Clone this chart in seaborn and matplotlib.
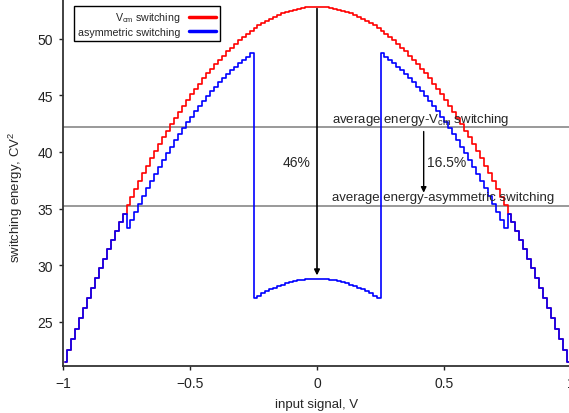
import numpy as np
import pandas as pd
import matplotlib.pyplot as plt
import seaborn as sns

# switching energy per output code (128 codes over the input range)
n_codes = 128
vin = -1 + (np.arange(n_codes) + 0.5) * 2 / n_codes

e_vcm = [21.49, 22.47, 23.44, 24.38, 25.31, 26.23, 27.13, 28.02, 28.89, 29.74, 30.58, 31.40, 32.21, 33.00, 33.78, 34.54,
         35.28, 36.01, 36.73, 37.43, 38.11, 38.78, 39.43, 40.07, 40.69, 41.29, 41.88, 42.46, 43.02, 43.56, 44.09, 44.60,
         45.10, 45.58, 46.04, 46.49, 46.93, 47.35, 47.75, 48.14, 48.51, 48.87, 49.21, 49.54, 49.85, 50.14, 50.42, 50.69,
         50.93, 51.17, 51.39, 51.59, 51.77, 51.94, 52.10, 52.24, 52.36, 52.47, 52.57, 52.64, 52.70, 52.75, 52.78, 52.80,
         52.80, 52.78, 52.75, 52.70, 52.64, 52.57, 52.47, 52.36, 52.24, 52.10, 51.94, 51.77, 51.59, 51.39, 51.17, 50.93,
         50.69, 50.42, 50.14, 49.85, 49.54, 49.21, 48.87, 48.51, 48.14, 47.75, 47.35, 46.93, 46.49, 46.04, 45.58, 45.10,
         44.60, 44.09, 43.56, 43.02, 42.46, 41.88, 41.29, 40.69, 40.07, 39.43, 38.78, 38.11, 37.43, 36.73, 36.01, 35.28,
         34.54, 33.78, 33.00, 32.21, 31.40, 30.58, 29.74, 28.89, 28.02, 27.13, 26.23, 25.31, 24.38, 23.44, 22.47, 21.49]

e_asym = [21.49, 22.47, 23.44, 24.38, 25.31, 26.23, 27.13, 28.02, 28.89, 29.74, 30.58, 31.40, 32.21, 33.00, 33.78, 34.54,
          33.28, 34.01, 34.73, 35.43, 36.11, 36.78, 37.43, 38.07, 38.69, 39.29, 39.88, 40.46, 41.02, 41.56, 42.09, 42.60,
          43.10, 43.58, 44.04, 44.49, 44.93, 45.35, 45.75, 46.14, 46.51, 46.87, 47.21, 47.54, 47.85, 48.14, 48.42, 48.69,
          27.11, 27.32, 27.52, 27.70, 27.87, 28.02, 28.17, 28.29, 28.40, 28.50, 28.59, 28.66, 28.71, 28.76, 28.78, 28.80,
          28.80, 28.78, 28.76, 28.71, 28.66, 28.59, 28.50, 28.40, 28.29, 28.17, 28.02, 27.87, 27.70, 27.52, 27.32, 27.11,
          48.69, 48.42, 48.14, 47.85, 47.54, 47.21, 46.87, 46.51, 46.14, 45.75, 45.35, 44.93, 44.49, 44.04, 43.58, 43.10,
          42.60, 42.09, 41.56, 41.02, 40.46, 39.88, 39.29, 38.69, 38.07, 37.43, 36.78, 36.11, 35.43, 34.73, 34.01, 33.28,
          34.54, 33.78, 33.00, 32.21, 31.40, 30.58, 29.74, 28.89, 28.02, 27.13, 26.23, 25.31, 24.38, 23.44, 22.47, 21.49]

avg_vcm = 42.2
avg_asym = 35.2
label_vcm = "V$_{cm}$ switching"
label_asym = "asymmetric switching"

df = pd.concat([
    pd.DataFrame({"vin": vin, "energy": e_vcm, "scheme": label_vcm}),
    pd.DataFrame({"vin": vin, "energy": e_asym, "scheme": label_asym}),
])

sns.set_style("ticks")
plt.rcParams['font.family'] = ['Liberation Sans', 'DejaVu Sans']
plt.rcParams['mathtext.default'] = 'regular'

fig = plt.figure(figsize=(5.69, 4.14), dpi=100)
# axes runs a bit past the right edge of the figure, like the original crop
ax = fig.add_axes([63 / 569, 47 / 414, 508 / 569, 367 / 414])

ax.axhline(avg_vcm, color='#888888', lw=1.2, zorder=1)
ax.axhline(avg_asym, color='#888888', lw=1.2, zorder=1)

sns.lineplot(data=df, x="vin", y="energy", hue="scheme", hue_order=[label_vcm, label_asym],
             palette={label_vcm: '#ff0000', label_asym: '#0000ff'}, drawstyle='steps-mid',
             lw=1.2, ax=ax, zorder=3)

ax.annotate("", xy=(0, 29.1), xytext=(0, 52.65),
            arrowprops=dict(arrowstyle='-|>', color='black', lw=1.2, shrinkA=0, shrinkB=0,
                            mutation_scale=8))
ax.annotate("", xy=(0.42, 36.4), xytext=(0.42, 41.8),
            arrowprops=dict(arrowstyle='-|>', color='black', lw=1.0, shrinkA=0, shrinkB=0,
                            mutation_scale=8))
ax.text(-0.08, 39.15, "46%", ha='center', va='center', fontsize=10)
ax.text(0.51, 39.15, "16.5%", ha='center', va='center', fontsize=10)
ax.text(0.06, 42.95, "average energy-V$_{cm}$ switching", ha='left', va='center', fontsize=9.5)
ax.text(0.06, 36.05, "average energy-asymmetric switching", ha='left', va='center', fontsize=9.5)

ax.set_xlim(-1, 1)
ax.set_ylim(21.1, 53.5)
ax.set_xticks([-1, -0.5, 0, 0.5, 1])
ax.set_xticklabels(["\u22121", "\u22120.5", "0", "0.5", "1"])
ax.set_yticks([25, 30, 35, 40, 45, 50])
ax.tick_params(direction='out', length=3, width=1, labelsize=10, colors='#222222', pad=4)
for s in ['top', 'right']:
    ax.spines[s].set_visible(False)
for s in ['left', 'bottom']:
    ax.spines[s].set_linewidth(1.3)
    ax.spines[s].set_color('#333333')

ax.set_xlabel("input signal, V", fontsize=9.5)
ax.set_ylabel("switching energy, CV$^2$", fontsize=9.5)
ax.xaxis.set_label_coords(0.5, -0.088)
ax.yaxis.set_label_coords(-0.075, 0.463)

leg = ax.legend(loc='upper left', bbox_to_anchor=(11 / 508, 1 - 7 / 367), borderaxespad=0,
                markerfirst=False, fontsize=7.7, handlelength=2.5, fancybox=False,
                edgecolor='black', framealpha=1, borderpad=0.4, labelspacing=0.25)
leg.get_frame().set_linewidth(1.0)
for line in leg.get_lines():
    line.set_linewidth(2.5)

fig.savefig("out.png", dpi=100)
